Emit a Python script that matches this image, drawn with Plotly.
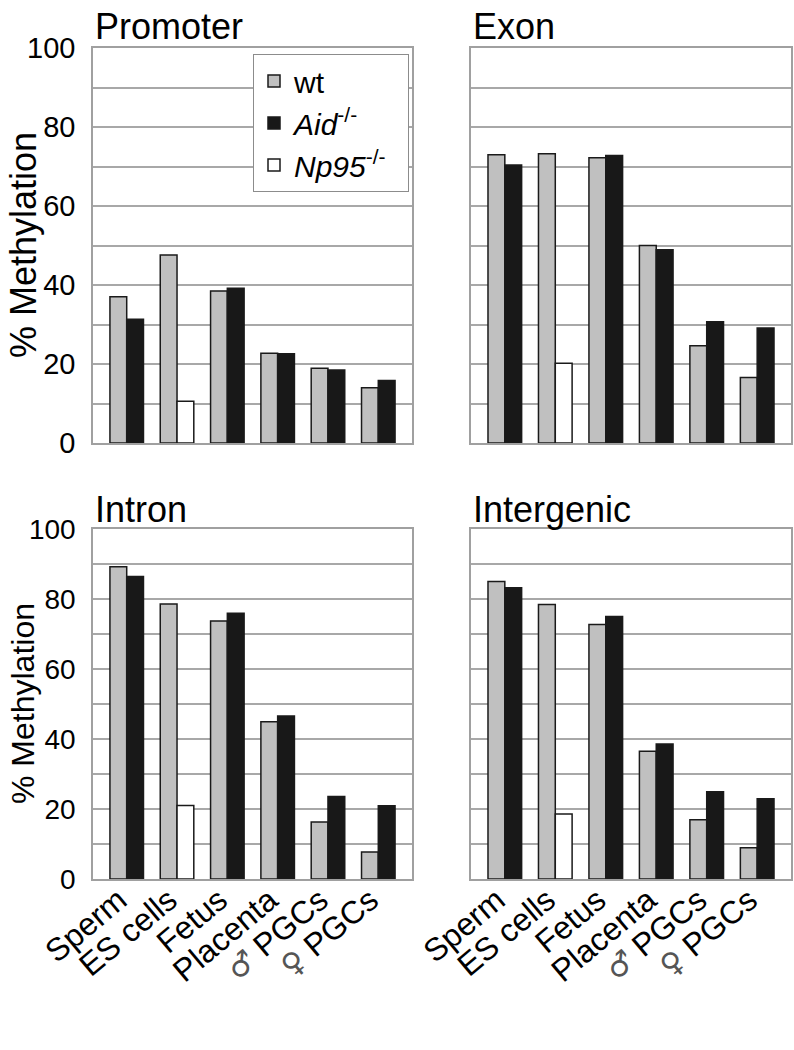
import plotly.graph_objects as go

SYM = ('<span style="font-family:DejaVu Sans;'
       'font-size:30px;fill:#555">%s</span>')
categories = ["Sperm", "ES cells", "Fetus", "Placenta",
              SYM % "♂" + " PGCs", SYM % "♀" + " PGCs"]
panel_titles = ["Promoter", "Exon", "Intron", "Intergenic"]
series_names = ["wt", "<i>Aid</i><sup>-/-</sup>",
                "<i>Np95</i><sup>-/-</sup>\u00a0\u00a0"]
y_title = "% Methylation"

promoter_wt = [37.0, 47.6, 38.5, 22.7, 18.9, 14.0]
promoter_aid = [31.3, None, 39.2, 22.6, 18.5, 15.8]
promoter_np95 = [None, 10.6, None, None, None, None]

exon_wt = [73.0, 73.2, 72.2, 50.0, 24.6, 16.6]
exon_aid = [70.4, None, 72.8, 48.9, 30.7, 29.1]
exon_np95 = [None, 20.2, None, None, None, None]

intron_wt = [89.2, 78.6, 73.7, 44.9, 16.3, 7.7]
intron_aid = [86.4, None, 75.9, 46.6, 23.6, 20.9]
intron_np95 = [None, 21.0, None, None, None, None]

intergenic_wt = [85.0, 78.4, 72.7, 36.5, 16.9, 8.9]
intergenic_aid = [83.2, None, 75.0, 38.6, 24.9, 22.9]
intergenic_np95 = [None, 18.6, None, None, None, None]

panels = [
    (promoter_wt, promoter_aid, promoter_np95),
    (exon_wt, exon_aid, exon_np95),
    (intron_wt, intron_aid, intron_np95),
    (intergenic_wt, intergenic_aid, intergenic_np95),
]

W, H = 794, 1050
FONT = "Liberation Sans, Arial, Helvetica, sans-serif"
colors = ["#c0c0c0", "#181818", "#ffffff"]
groups = ["a", "b", "b"]


def px_x(p):
    return p / W


def px_y(p):
    return 1 - p / H


fig = go.Figure()
for i, data in enumerate(panels):
    suffix = "" if i == 0 else str(i + 1)
    for j, vals in enumerate(data):
        fig.add_trace(go.Bar(
            x=categories, y=vals, name=series_names[j],
            xaxis="x" + suffix, yaxis="y" + suffix,
            offsetgroup=groups[j], legendgroup="g%d" % j,
            showlegend=(i == 0),
            marker=dict(color=colors[j], line=dict(color="#1a1a1a", width=1.5)),
        ))

xdom = {0: [px_x(93), px_x(412)], 1: [px_x(471), px_x(791)]}
ydom = {0: [px_y(443), px_y(48)], 1: [px_y(879), px_y(529)]}

layout = dict(
    width=W, height=H,
    margin=dict(l=0, r=0, t=0, b=0, autoexpand=False),
    paper_bgcolor="white", plot_bgcolor="white",
    barmode="group", bargap=1 / 3, bargroupgap=0,
    font=dict(family=FONT, color="black"),
    legend=dict(
        x=px_x(253), y=px_y(54), xanchor="left", yanchor="top",
        bgcolor="white", bordercolor="#8c8c8c", borderwidth=1,
        font=dict(size=30, family=FONT), traceorder="grouped",
        tracegroupgap=0,
    ),
)

for i in range(4):
    suffix = "" if i == 0 else str(i + 1)
    col = i % 2
    row = i // 2
    layout["xaxis" + suffix] = dict(
        domain=xdom[col], anchor="y" + suffix, type="category",
        range=[-0.67, 5.67], showgrid=False, ticks="", automargin=False,
        showline=True, mirror=True, linecolor="#a0a0a0", linewidth=1.5,
        showticklabels=(row == 1), tickangle=-40,
        tickfont=dict(size=32, family=FONT),
        ticklabelstandoff=-12, ticklabelshift=-8,
    )
    layout["yaxis" + suffix] = dict(
        domain=ydom[row], anchor="x" + suffix, range=[0, 100],
        dtick=20, tick0=0, ticks="", automargin=False,
        showgrid=True, gridcolor="#a8a8a8", gridwidth=1.5,
        minor=dict(dtick=10, showgrid=True, gridcolor="#a8a8a8", gridwidth=1.5, ticks=""),
        showline=True, mirror=True, linecolor="#a0a0a0", linewidth=1.5,
        zeroline=False, showticklabels=(col == 0),
        tickfont=dict(size=29 if row == 0 else 28, family=FONT),
        ticklabelstandoff=10,
    )

fig.update_layout(**layout)

title_pos = [(93, 49), (471, 49), (93, 532), (471, 532)]
for t, (px, py) in zip(panel_titles, title_pos):
    fig.add_annotation(
        text=t, xref="paper", yref="paper", x=px_x(px), y=px_y(py),
        xanchor="left", yanchor="bottom", showarrow=False,
        font=dict(size=36, family=FONT, color="black"),
    )

# rotated y-axis titles
for cy, fs in [(245, 36), (704, 32)]:
    fig.add_annotation(
        text=y_title, xref="paper", yref="paper", x=px_x(23), y=px_y(cy),
        xanchor="center", yanchor="middle", textangle=-90, showarrow=False,
        font=dict(size=fs, family=FONT, color="black"),
    )

fig.write_html("out.html", config={"displayModeBar": False},
               post_script="document.body.style.margin='0';")
